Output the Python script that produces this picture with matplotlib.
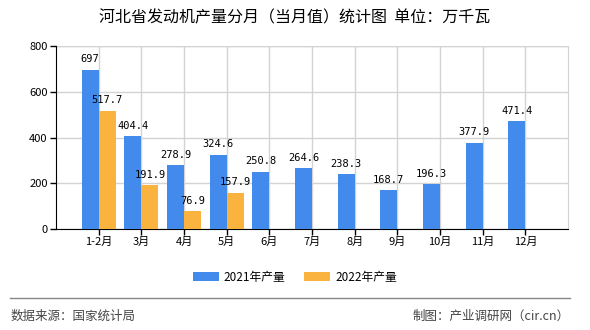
import matplotlib.pyplot as plt
import numpy as np

plt.rcParams['font.family'] = ['Noto Sans CJK SC', 'DejaVu Sans']

months = ['1-2月', '3月', '4月', '5月', '6月', '7月', '8月', '9月', '10月', '11月', '12月']
output_2021 = [697, 404.4, 278.9, 324.6, 250.8, 264.6, 238.3, 168.7, 196.3, 377.9, 471.4]
output_2022 = [517.7, 191.9, 76.9, 157.9]
y_ticks = [0, 200, 400, 600, 800]

blue = '#428bec'
orange = '#fbb33f'

fig = plt.figure(figsize=(5.9, 3.3), dpi=100)
ax = fig.add_axes([56 / 590, 1 - 229 / 330, 512 / 590, 183 / 330])

x = np.arange(len(months))
w = 0.4
b1 = ax.bar(x - w / 2, output_2021, w, color=blue, label='2021年产量', zorder=3)
x2 = np.arange(len(output_2022))
b2 = ax.bar(x2 + w / 2, output_2022, w, color=orange, label='2022年产量', zorder=3)

# value labels above each bar
for bars, vals in [(b1, output_2021), (b2, output_2022)]:
    for rect, v in zip(bars, vals):
        txt = f'{v:g}'
        ax.annotate(txt, (rect.get_x() + rect.get_width() / 2, v),
                    xytext=(0, 4), textcoords='offset points',
                    ha='center', va='bottom', fontsize=7.5,
                    family='DejaVu Sans Mono', zorder=4)

ax.set_xlim(-1, len(months))
ax.set_ylim(0, 800)
ax.set_xticks(x)
ax.set_xticklabels(months, fontsize=8)
ax.set_yticks(y_ticks)
ax.tick_params(axis='y', labelsize=8, length=4, width=1, pad=2)
ax.tick_params(axis='x', length=4, width=1, pad=2)

ax.grid(True, color='#d3d3d3', linewidth=1, zorder=0)
ax.spines['top'].set_visible(False)
ax.spines['right'].set_color('#d3d3d3')
ax.spines['left'].set_color('black')
ax.spines['bottom'].set_color('black')
ax.axhline(800, color='#d3d3d3', linewidth=1, zorder=0)

fig.text(0.5, 1 - 18 / 330, '河北省发动机产量分月（当月值）统计图  单位：万千瓦',
         ha='center', va='center', fontsize=11.5)

fig.legend(handles=[b1, b2], loc='center', bbox_to_anchor=(0.5, 1 - 277 / 330),
           ncol=2, frameon=False, fontsize=8.5, handlelength=2.2, handleheight=0.9,
           columnspacing=1.6, handletextpad=0.4)

fig.add_artist(plt.Line2D([10 / 590, 570 / 590], [1 - 298 / 330, 1 - 298 / 330],
                          color='#888888', linewidth=1))
fig.text(11 / 590, 1 - 316 / 330, '数据来源：国家统计局', ha='left', va='center',
         fontsize=9, color='#444444')
fig.text(570 / 590, 1 - 316 / 330, '制图：产业调研网（cir.cn）', ha='right', va='center',
         fontsize=9, color='#444444')

fig.savefig('out.png', dpi=100)
